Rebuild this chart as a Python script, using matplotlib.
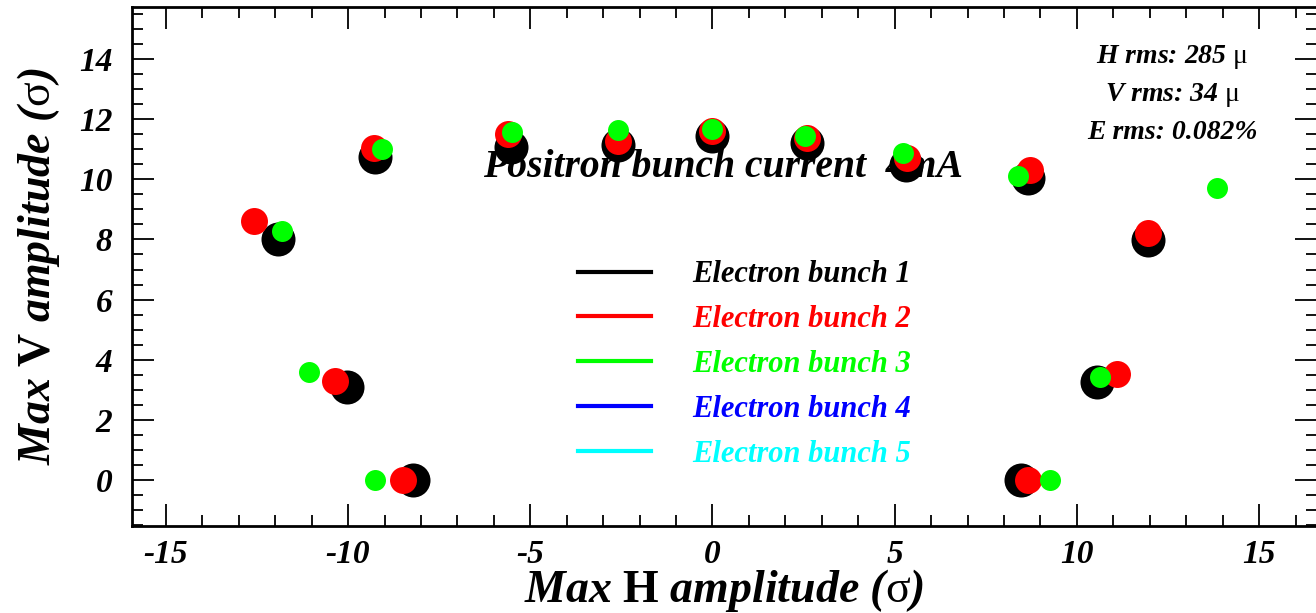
import matplotlib
matplotlib.use("Agg")
import matplotlib.pyplot as plt
from matplotlib.lines import Line2D
from matplotlib.ticker import MultipleLocator

plt.rcParams['font.family'] = ['Liberation Serif', 'DejaVu Serif']
plt.rcParams['axes.unicode_minus'] = False
plt.rcParams['mathtext.fontset'] = 'custom'
plt.rcParams['mathtext.rm'] = 'Liberation Serif'
plt.rcParams['mathtext.bf'] = 'Liberation Serif:bold'
plt.rcParams['mathtext.it'] = 'Liberation Serif:italic:bold'

# max amplitudes (sigma) per electron bunch
h1 = [-11.93, -9.27, -5.54, -2.58, 0.0, 2.6, 5.32, 8.67, 11.94, 10.56, 8.47, -8.23, -10.02]
v1 = [8.0, 10.74, 11.07, 11.14, 11.45, 11.2, 10.47, 10.04, 7.98, 3.26, 0.0, 0.0, 3.09]
h2 = [-12.59, -9.3, -5.6, -2.58, 0.0, 2.6, 5.35, 8.7, 11.96, 11.1, 8.67, -8.5, -10.37]
v2 = [8.61, 11.04, 11.5, 11.27, 11.62, 11.38, 10.72, 10.3, 8.2, 3.52, 0.0, 0.0, 3.29]
h3 = [-11.8, -9.08, -5.51, -2.58, 0.0, 2.55, 5.24, 8.37, 13.85, 10.62, 9.27, -9.27, -11.06]
v3 = [8.28, 11.0, 11.57, 11.64, 11.68, 11.45, 10.87, 10.11, 9.7, 3.43, 0.0, 0.0, 3.58]

bunch_labels = ["Electron bunch 1", "Electron bunch 2", "Electron bunch 3",
                "Electron bunch 4", "Electron bunch 5"]
bunch_colors = ["black", "#ff0000", "#00ff00", "#0000ff", "#00ffff"]

fig = plt.figure(figsize=(13.16, 6.13), dpi=100)
ax = fig.add_axes([0.1003, 0.1419, 0.9005, 0.8467])

ax.scatter(h1, v1, s=600, color=bunch_colors[0], zorder=3, linewidths=0)
ax.scatter(h2, v2, s=377, color=bunch_colors[1], zorder=4, linewidths=0)
ax.scatter(h3, v3, s=228, color=bunch_colors[2], zorder=5, linewidths=0)

ax.set_xlim(-15.93, 16.59)
ax.set_ylim(-1.53, 15.73)
ax.xaxis.set_major_locator(MultipleLocator(5))
ax.xaxis.set_minor_locator(MultipleLocator(1))
ax.yaxis.set_major_locator(MultipleLocator(2))
ax.yaxis.set_minor_locator(MultipleLocator(0.5))
ax.tick_params(which='both', direction='in', top=True, right=True, width=1.3,
               labelsize=24)
ax.tick_params(axis='x', pad=9)
ax.tick_params(axis='y', pad=14)
ax.tick_params(which='major', length=16)
ax.tick_params(which='minor', length=8)
for lab in ax.get_xticklabels() + ax.get_yticklabels():
    lab.set_fontweight('bold')
    lab.set_fontstyle('italic')
for sp in ax.spines.values():
    sp.set_linewidth(2)

ax.set_xlabel(r"Max $\mathbf{H}$ amplitude ($\mathrm{σ}$)", fontsize=33,
              fontweight='bold', fontstyle='italic', labelpad=-2)
ax.set_ylabel(r"Max $\mathbf{V}$ amplitude ($\mathrm{σ}$)", fontsize=33,
              fontweight='bold', fontstyle='italic', labelpad=12)

ax.text(0.3, 10.4, "Positron bunch current  4mA", fontsize=28.5, fontweight='bold',
        fontstyle='italic', ha='center', va='center', zorder=1)

ax.text(0.878, 0.904, r"H rms: 285 $\mathrm{μ}$", transform=ax.transAxes, fontsize=20,
        fontweight='bold', fontstyle='italic', ha='center', va='center')
ax.text(0.878, 0.831, r"V rms: 34 $\mathrm{μ}$", transform=ax.transAxes, fontsize=20,
        fontweight='bold', fontstyle='italic', ha='center', va='center')
ax.text(0.878, 0.759, "E rms: 0.082%", transform=ax.transAxes, fontsize=20,
        fontweight='bold', fontstyle='italic', ha='center', va='center')

handles = [Line2D([], [], color=c, lw=3) for c in bunch_colors]
leg = ax.legend(handles=handles, labels=bunch_labels, loc='upper left',
                bbox_to_anchor=(0.376, 0.512), frameon=False, borderpad=0,
                borderaxespad=0, handlelength=2.4, handletextpad=1.35,
                labelspacing=0.52, labelcolor='linecolor',
                prop={'size': 22, 'weight': 'bold', 'style': 'italic'})

fig.savefig("out.png", dpi=100)
